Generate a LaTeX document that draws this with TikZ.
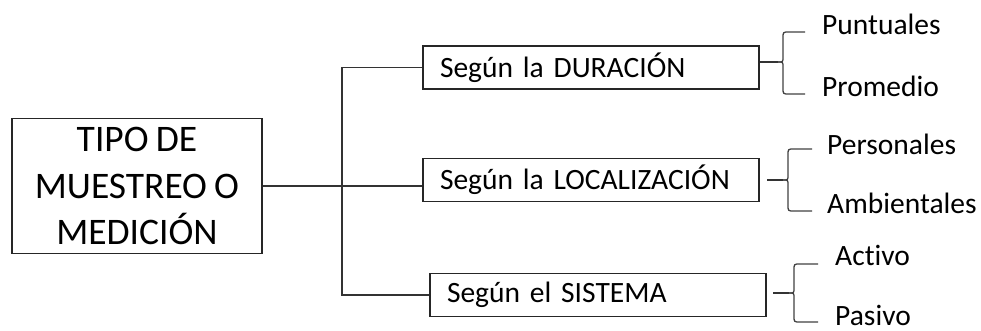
\documentclass[tikz,border=0pt]{standalone}
\usepackage{fontspec}
\setmainfont{Carlito}[Ligatures=NoCommon, WordSpace=0.85]
\usetikzlibrary{positioning}

\begin{document}
\begin{tikzpicture}[x=1pt,y=-1pt,
        tipobox/.style={draw=black!85, line width=1.1pt, minimum width=250pt, minimum height=135pt,
          align=center, font=\fontsize{37.5}{46.5}\selectfont},
        ramabox/.style={draw=black!85, line width=1.1pt, minimum height=43pt, text width=302pt,
          inner xsep=17pt, inner ysep=0pt, align=left, font=\fontsize{29.5}{34}\selectfont},
        hoja/.style={anchor=base west, inner sep=0pt, font=\fontsize{29.5}{34}\selectfont},
        linea/.style={draw=black!80, line width=1.3pt},
        llave/.style={draw=black!75, line width=1.3pt}]
    \useasboundingbox (0,0) rectangle (981,331);
    % raiz
    \node[tipobox] (tipo) at (137,186) {TIPO DE\\MUESTREO O\\MEDICIÓN};
    % ramas
    \node[ramabox] (dur) at (591,67.5) {Según la DURACIÓN};
    \node[ramabox] (loc) at (591,180) {Según la LOCALIZACIÓN};
    \node[ramabox] (sis) at (598,295) {Según el SISTEMA};

    \coordinate (tronco) at (342,186);
    \draw[linea] (tipo.east) -- (tipo.east -| loc.west);
    \draw[linea] (dur.west) -| (tronco) |- (sis.west);

    % hojas
    \node[hoja] (punt) at (822,35) {Puntuales};
    \node[hoja] (prom) at (822,97) {Promedio};
    \node[hoja] (pers) at (827,155) {Personales};
    \node[hoja] (amb) at (827,213) {Ambientales};
    \node[hoja] (act) at (835,265) {Activo};
    \node[hoja] (pas) at (835,325) {Pasivo};

    % llaves
    \foreach \vx/\my/\ty/\by/\ex in {783/62/32/94/805, 788/180/149/211/812, 794/293/264/322/818} {
        \draw[llave] (\ex,\ty) -- (\vx+6,\ty) .. controls (\vx,\ty) .. (\vx,\ty+6)
            -- (\vx,\my-5) .. controls (\vx,\my) .. (\vx-5,\my);
        \draw[llave] (\ex,\by) -- (\vx+6,\by) .. controls (\vx,\by) .. (\vx,\by-6)
            -- (\vx,\my+5) .. controls (\vx,\my) .. (\vx-5,\my);
    }
    \coordinate (durtip) at (778,62);
    \coordinate (locini) at (767,180);
    \coordinate (loctip) at (783,180);
    \coordinate (sisini) at (773,293);
    \coordinate (sistip) at (789,293);
    \draw[linea] (dur.east |- durtip) -- (durtip);
    \draw[linea] (locini) -- (loctip);
    \draw[linea] (sisini) -- (sistip);
\end{tikzpicture}
\end{document}
